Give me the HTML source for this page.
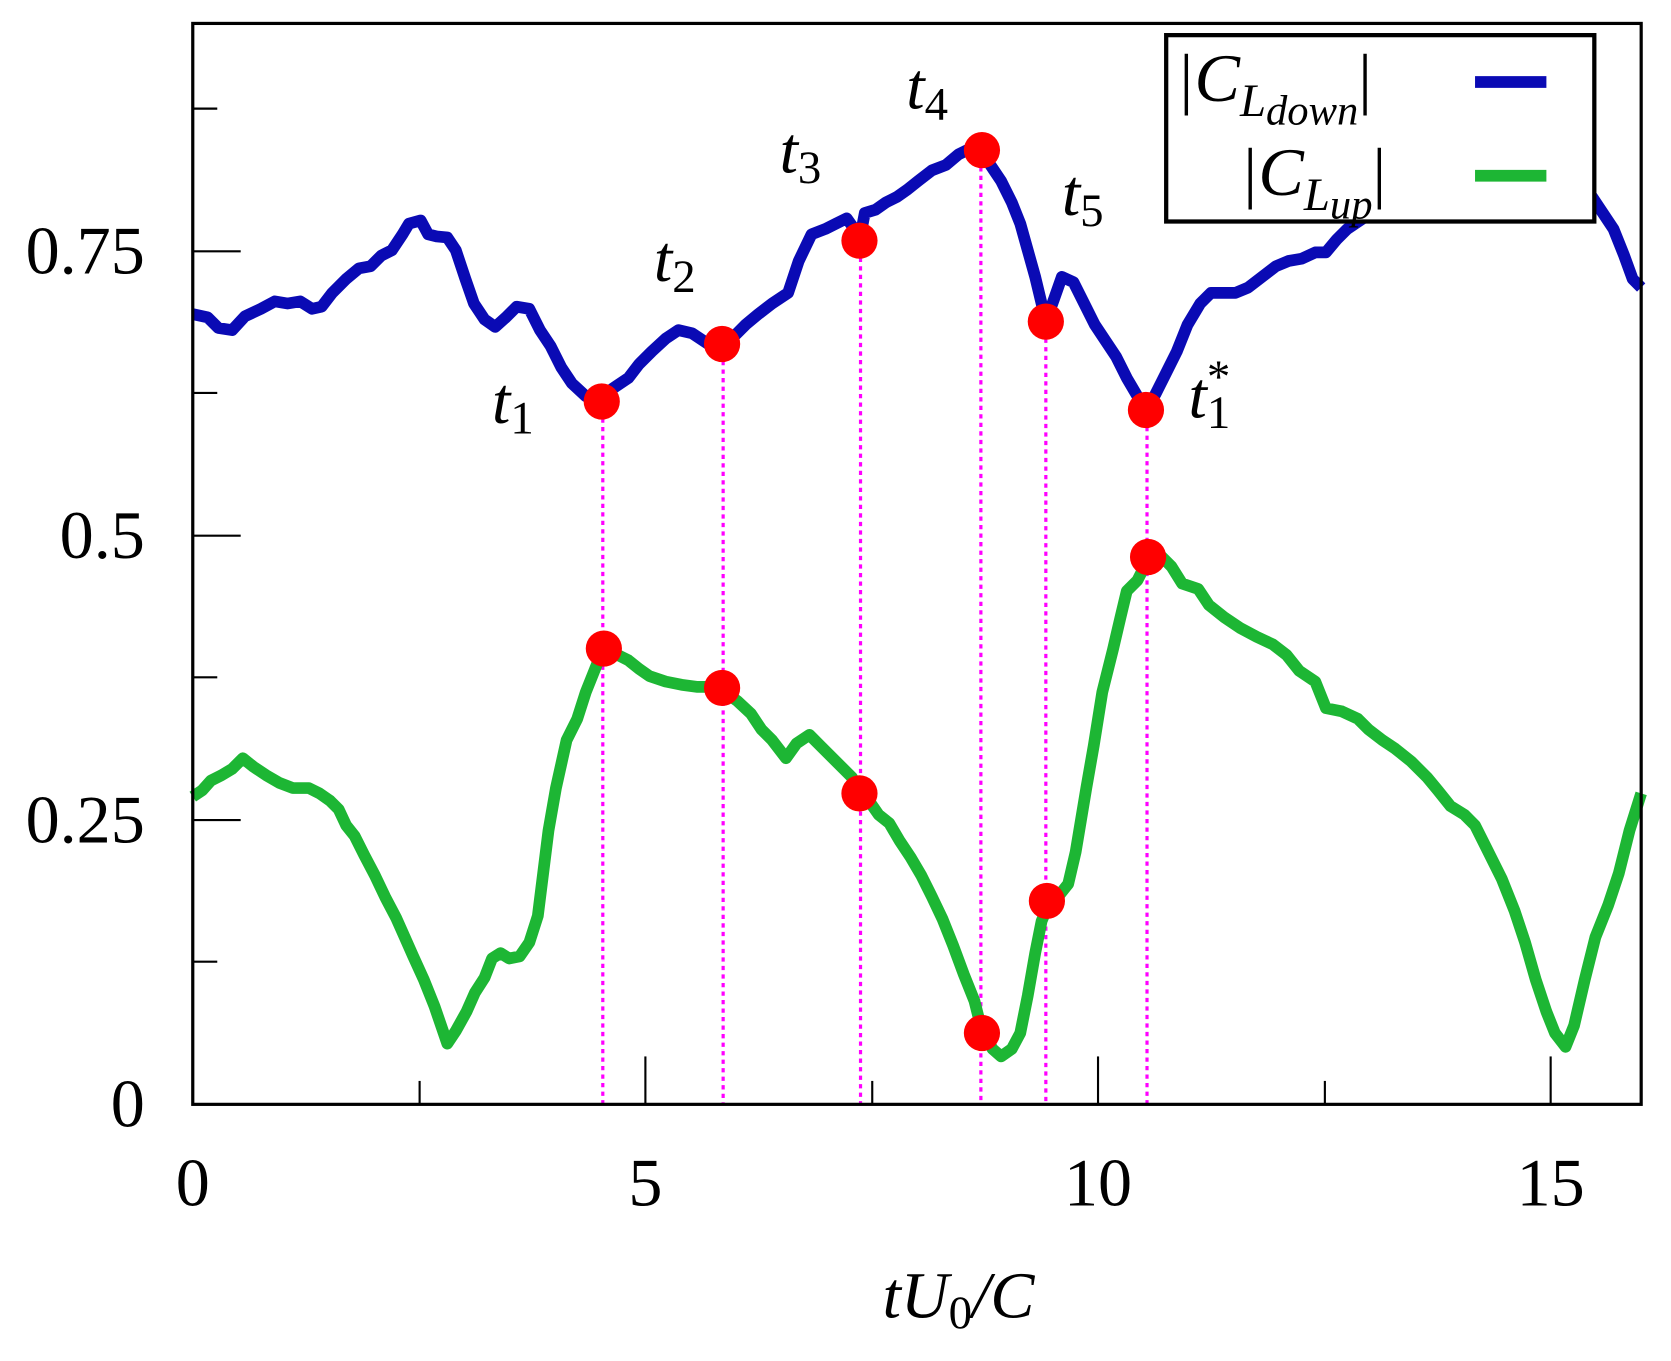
<!DOCTYPE html>
<html><head><style>html,body{margin:0;padding:0;background:#fff}svg{display:block}</style></head><body>
<svg width="1671" height="1361" viewBox="0 0 1569 1278" preserveAspectRatio="none" xmlns="http://www.w3.org/2000/svg" font-family="Liberation Serif, serif">
<rect width="1569" height="1278" fill="#fff"/>
<g stroke="#000" stroke-width="2">
<line x1="181" y1="1037" x2="226" y2="1037"/><line x1="181" y1="903" x2="204" y2="903"/>
<line x1="181" y1="770" x2="226" y2="770"/><line x1="181" y1="636" x2="204" y2="636"/>
<line x1="181" y1="503" x2="226" y2="503"/><line x1="181" y1="369" x2="204" y2="369"/>
<line x1="181" y1="236" x2="226" y2="236"/><line x1="181" y1="102" x2="204" y2="102"/>
<line x1="394" y1="1037" x2="394" y2="1015"/><line x1="606" y1="1037" x2="606" y2="992"/>
<line x1="819" y1="1037" x2="819" y2="1015"/><line x1="1031" y1="1037" x2="1031" y2="992"/>
<line x1="1244" y1="1037" x2="1244" y2="1015"/><line x1="1456" y1="1037" x2="1456" y2="992"/>
</g>
<g stroke="#f0f" stroke-width="3" stroke-dasharray="4,4">
<line x1="566" y1="377" x2="566" y2="1037"/><line x1="679" y1="323" x2="679" y2="1037"/>
<line x1="808" y1="226" x2="808" y2="1037"/><line x1="921" y1="141" x2="921" y2="1037"/>
<line x1="982" y1="302" x2="982" y2="1037"/><line x1="1077" y1="385" x2="1077" y2="1037"/>
</g>
<polyline fill="none" stroke="#0a0ab4" stroke-width="11" stroke-linejoin="round" points="181,295 195,298 205,308 218,310 230,297 245,290 258,283 270,285 282,283 293,290 302,288 312,275 325,262 337,252 348,250 358,240 368,235 378,220 384,210 395,207 402,220 410,222 420,223 428,235 437,262 445,285 455,300 465,307 475,298 485,288 497,290 507,310 517,325 527,345 537,360 550,372 565,377 575,365 590,355 600,342 612,330 625,318 637,310 650,313 665,323 678,325 690,315 700,305 712,295 725,285 740,275 750,245 762,220 775,215 785,210 795,205 800,212 807,226 812,200 822,197 832,190 842,185 852,178 862,170 875,160 888,155 900,145 910,140 922,141 930,155 940,170 950,190 958,210 965,235 972,260 978,285 982,302 990,280 997,260 1008,265 1018,285 1028,305 1038,320 1048,335 1058,355 1068,372 1076,385 1085,370 1095,350 1105,330 1115,305 1127,285 1137,275 1150,275 1160,275 1172,270 1185,260 1198,250 1210,245 1222,243 1235,237 1245,237 1255,225 1265,215 1280,205 1300,195 1400,180 1480,170 1495,185 1505,200 1515,215 1525,240 1533,262 1541,270"/>
<polyline fill="none" stroke="#1db634" stroke-width="11" stroke-linejoin="round" points="181,748 190,742 198,733 208,728 218,722 228,712 238,720 250,728 262,735 275,740 290,740 300,745 310,752 318,760 325,775 333,785 342,803 352,822 362,843 372,862 380,880 388,898 398,920 408,945 420,980 428,968 438,950 446,932 455,918 462,900 470,895 478,900 488,898 497,885 505,860 510,820 515,780 522,740 532,695 542,675 550,650 560,625 567,608 580,615 590,620 600,628 610,635 625,640 640,643 655,645 668,645 678,648 692,658 705,670 715,685 725,695 738,712 748,698 760,690 770,700 780,710 790,720 800,730 808,745 818,755 825,765 835,773 845,790 855,805 865,822 875,842 885,863 895,888 905,915 915,940 922,968 932,985 940,992 950,985 958,970 965,935 972,895 978,865 985,848 995,840 1003,830 1010,800 1015,770 1020,740 1027,700 1035,650 1045,610 1052,580 1058,555 1068,545 1078,525 1090,522 1100,532 1110,548 1125,553 1135,568 1150,580 1165,590 1180,598 1195,605 1208,615 1220,630 1235,640 1245,665 1260,668 1275,675 1285,685 1298,695 1310,703 1325,715 1340,730 1350,742 1362,757 1375,765 1385,775 1395,795 1410,825 1422,855 1432,885 1442,920 1452,950 1460,970 1470,983 1478,963 1488,920 1498,880 1510,850 1520,820 1530,780 1541,745"/>
<g fill="#f00">
<circle cx="565" cy="377" r="17"/><circle cx="678" cy="323" r="17"/><circle cx="807" cy="226" r="17"/>
<circle cx="922" cy="141" r="17"/><circle cx="982" cy="302" r="17"/><circle cx="1076" cy="385" r="17"/>
<circle cx="567" cy="609" r="17"/><circle cx="678" cy="646" r="17"/><circle cx="807" cy="745" r="17"/>
<circle cx="922" cy="970" r="17"/><circle cx="983" cy="846" r="17"/><circle cx="1078" cy="523" r="17"/>
</g>
<rect x="181" y="22" width="1360" height="1015" fill="none" stroke="#000" stroke-width="3"/>
<rect x="1095" y="33" width="402" height="175" fill="#fff" stroke="#000" stroke-width="4"/>
<line x1="1385" y1="77" x2="1452" y2="77" stroke="#0a0ab4" stroke-width="11"/>
<line x1="1385" y1="165" x2="1452" y2="165" stroke="#1db634" stroke-width="11"/>
<g font-size="64" font-style="italic">
<text x="1104" y="95">|C<tspan font-size="44" dy="14">L</tspan><tspan font-size="40" dy="8">down</tspan><tspan dy="-22" font-style="normal">|</tspan></text>
<text x="1164" y="183">|C<tspan font-size="44" dy="14">L</tspan><tspan font-size="40" dy="8">up</tspan><tspan dy="-22" font-style="normal">|</tspan></text>
</g>
<g font-size="62" font-style="italic">
<text x="462" y="397">t<tspan font-size="44" dy="10" font-style="normal">1</tspan></text>
<text x="614" y="264">t<tspan font-size="44" dy="10" font-style="normal">2</tspan></text>
<text x="732" y="162">t<tspan font-size="44" dy="10" font-style="normal">3</tspan></text>
<text x="851" y="102">t<tspan font-size="44" dy="10" font-style="normal">4</tspan></text>
<text x="997" y="202">t<tspan font-size="44" dy="10" font-style="normal">5</tspan></text>
<text x="1116" y="392">t<tspan font-size="44" dy="10" font-style="normal">1</tspan><tspan font-size="44" dx="-22" dy="-34" font-style="normal">*</tspan></text>
<text x="900" y="1237" text-anchor="middle">tU<tspan font-size="44" dy="10" font-style="normal">0</tspan><tspan dy="-10">/C</tspan></text>
</g>
<g font-size="64" text-anchor="end">
<text x="136" y="1058">0</text><text x="136" y="791">0.25</text><text x="136" y="524">0.5</text><text x="136" y="257">0.75</text>
</g>
<g font-size="64" text-anchor="middle">
<text x="181" y="1132">0</text><text x="606" y="1132">5</text><text x="1031" y="1132">10</text><text x="1456" y="1132">15</text>
</g>
</svg>
</body></html>
